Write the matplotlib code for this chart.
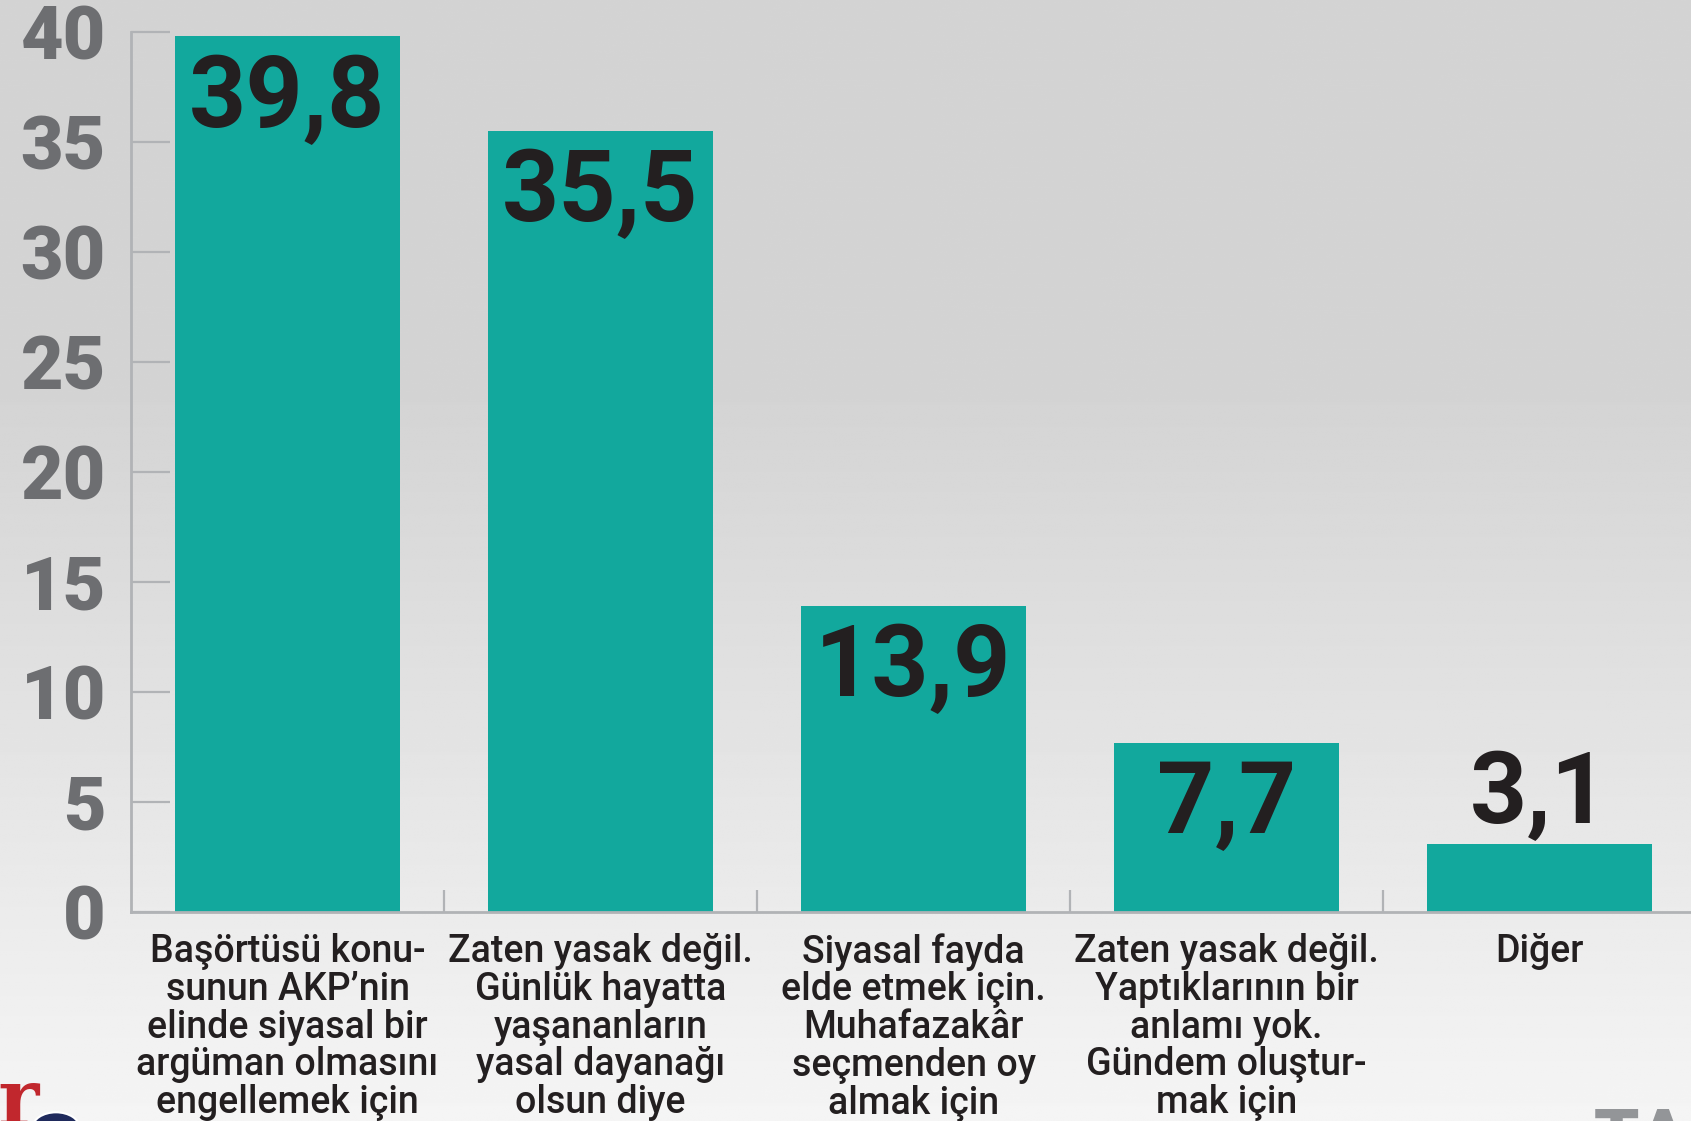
import numpy as np
import matplotlib.pyplot as plt
from matplotlib.patches import Circle

# data
categories = [
    "Başörtüsü konu-\nsunun AKP’nin\nelinde siyasal bir\nargüman olmasını\nengellemek için",
    "Zaten yasak değil.\nGünlük hayatta\nyaşananların\nyasal dayanağı\nolsun diye",
    "Siyasal fayda\nelde etmek için.\nMuhafazakâr\nseçmenden oy\nalmak için",
    "Zaten yasak değil.\nYaptıklarının bir\nanlamı yok.\nGündem oluştur-\nmak için",
    "Diğer",
]
values = [39.8, 35.5, 13.9, 7.7, 3.1]
y_ticks = [0, 5, 10, 15, 20, 25, 30, 35, 40]

TEAL = "#12a89d"
AXIS = "#b1b3b6"
DARK = "#231f20"
GRAY = "#6d6e71"

plt.rcParams['font.family'] = ['Roboto', 'DejaVu Sans']

fig = plt.figure(figsize=(16.91, 11.21), dpi=100)

# background gradient
bg = fig.add_axes([0, 0, 1, 1], zorder=0)
h = 400
t = np.linspace(0, 1, h)
shade = np.where(t < 0.35, 0.83, 0.83 + (t - 0.35) / 0.65 * (0.96 - 0.83))
bg.imshow(np.tile(shade[:, None], (1, 10)), cmap='gray', vmin=0, vmax=1,
          aspect='auto', extent=[0, 1, 0, 1], origin='upper')
bg.set_axis_off()

ax = fig.add_axes([131/1691, 209/1121, 1565/1691, 880/1121], zorder=1)
ax.set_facecolor('none')

x = np.arange(len(values))
ax.bar(x, values, width=0.722, color=TEAL, zorder=2)

ax.set_xlim(-0.5, 4.5)
ax.set_ylim(0, 40)

for side in ['top', 'right']:
    ax.spines[side].set_visible(False)
for side in ['left', 'bottom']:
    ax.spines[side].set_color(AXIS)
    ax.spines[side].set_linewidth(2)

ax.set_yticks(y_ticks)
ax.set_yticklabels([str(v) for v in y_ticks], fontsize=53, fontweight='black', color=GRAY)
ax.tick_params(axis='y', direction='in', length=28, width=1.6, color=AXIS, pad=18)

ax.set_xticks(x)
ax.set_xticklabels(categories, fontsize=27, fontweight='medium', color=DARK, linespacing=1.03)
ax.tick_params(axis='x', which='major', length=0, pad=15)
ax.set_xticks(x[:-1] + 0.5, minor=True)
ax.tick_params(axis='x', which='minor', direction='in', length=16, width=1.6, color=AXIS)

for xi, v in zip(x, values):
    lab = f"{v:.1f}".replace('.', ',')
    if v > 5:
        off = -65
    else:
        off = 15
    ax.annotate(lab, (xi, v), xytext=(0, off), textcoords='offset points',
                ha='center', va='baseline', fontsize=72, fontweight='bold',
                color=DARK, zorder=3)

# cropped logo fragments
fig.text(0.024, -0.018, "ar", fontsize=56, fontweight='bold', family='DejaVu Serif',
         color="#c1272d", ha='right', va='bottom')
fig.patches.append(Circle((56/1691, 1-1128/1121), 0.014, transform=fig.transFigure,
                          facecolor="#1f2a5c", edgecolor='white', lw=1.5, zorder=5))
fig.text(1594/1691, 1-1107/1121, "TA", fontsize=52, fontweight='black',
         color="#939598", ha='left', va='top')

fig.savefig("out.png", dpi=100)
